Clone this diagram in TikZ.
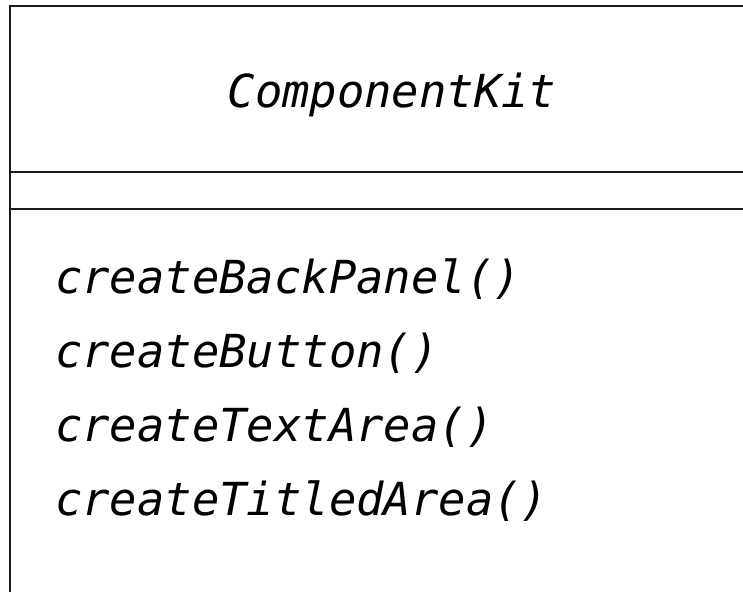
\documentclass[tikz,border=0pt]{standalone}
\usepackage{fontspec}
\setmonofont{DejaVu Sans Mono}
\tikzset{
  boxline/.style={line width=2.6pt, black!90},
  umltext/.style={font=\fontsize{45.5}{54}\selectfont\ttfamily\itshape, inner sep=0pt, text=black}
}
\begin{document}
\begin{tikzpicture}[x=1pt,y=-1pt]
\useasboundingbox (0,0) rectangle (743,592);
\fill[white] (0,0) rectangle (743,592);
\coordinate (tl) at (10,6);
\coordinate (tr) at (743,6);
\coordinate (bl) at (10,592);
\draw[boxline] (tr) -- (tl) -- (bl);
\draw[boxline] (10,172) -- (743,172);
\draw[boxline] (10,209) -- (743,209);
\node[umltext, anchor=base] (name) at (392,107) {ComponentKit};
\node[umltext, anchor=base west] (m1) at (55,293) {createBackPanel()};
\node[umltext, anchor=base west] (m2) at (55,367) {createButton()};
\node[umltext, anchor=base west] (m3) at (55,441) {createTextArea()};
\node[umltext, anchor=base west] (m4) at (55,515) {createTitledArea()};
\end{tikzpicture}
\end{document}
